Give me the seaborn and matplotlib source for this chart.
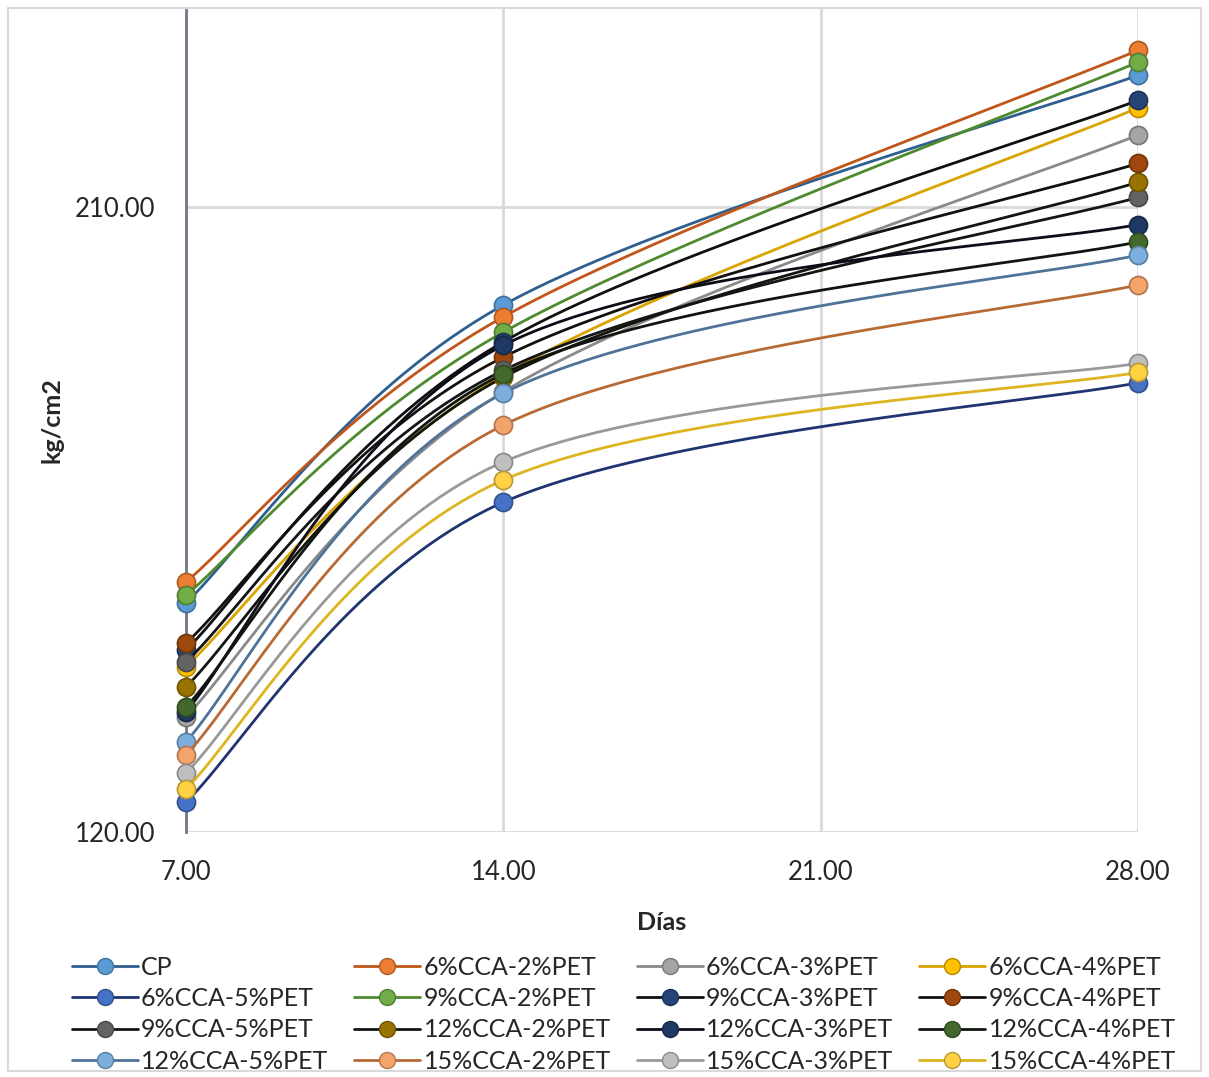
import numpy as np
import pandas as pd
import matplotlib
matplotlib.use("Agg")
import matplotlib.pyplot as plt
import seaborn as sns
from matplotlib.lines import Line2D
from matplotlib.patches import Rectangle
from matplotlib.colors import to_rgb

# ---- data: compressive strength (kg/cm2) by curing age (days) ----
dias = [7, 14, 28]

cp = [153.0, 195.9, 229.0]
cca6_pet2 = [156.0, 194.2, 232.6]
cca6_pet3 = [136.6, 183.4, 220.4]
cca6_pet4 = [143.8, 185.8, 224.3]
cca6_pet5 = [124.3, 167.5, 184.7]
cca9_pet2 = [154.1, 192.0, 230.9]
cca9_pet3 = [146.2, 190.6, 225.4]
cca9_pet4 = [147.2, 188.4, 216.3]
cca9_pet5 = [144.5, 186.5, 211.4]
cca12_pet2 = [140.9, 185.5, 213.6]
cca12_pet3 = [137.3, 190.1, 207.5]
cca12_pet4 = [138.0, 186.0, 205.0]
cca12_pet5 = [133.0, 183.2, 203.1]
cca15_pet2 = [131.1, 178.6, 198.8]
cca15_pet3 = [128.5, 173.3, 187.5]
cca15_pet4 = [126.2, 170.7, 186.2]

nombres = ["CP", "6%CCA-2%PET", "6%CCA-3%PET", "6%CCA-4%PET",
           "6%CCA-5%PET", "9%CCA-2%PET", "9%CCA-3%PET", "9%CCA-4%PET",
           "9%CCA-5%PET", "12%CCA-2%PET", "12%CCA-3%PET", "12%CCA-4%PET",
           "12%CCA-5%PET", "15%CCA-2%PET", "15%CCA-3%PET", "15%CCA-4%PET"]
valores = [cp, cca6_pet2, cca6_pet3, cca6_pet4, cca6_pet5, cca9_pet2,
           cca9_pet3, cca9_pet4, cca9_pet5, cca12_pet2, cca12_pet3,
           cca12_pet4, cca12_pet5, cca15_pet2, cca15_pet3, cca15_pet4]

# marker fill and connecting-line colours per series
color_marcador = ["#5B9BD5", "#ED7D31", "#A5A5A5", "#FFC000",
                  "#4472C4", "#70AD47", "#264478", "#9E480E",
                  "#636363", "#997300", "#1F3864", "#43682B",
                  "#7CAFDD", "#F4A36B", "#BFBFBF", "#FFD245"]
color_linea = ["#2F5F8F", "#C0561A", "#8A8A8A", "#D9A400",
               "#1F3470", "#4E8A2E", "#101010", "#151010",
               "#151515", "#151510", "#0D0D1A", "#101510",
               "#4F7398", "#B86A35", "#999999", "#DDB520"]


def suavizado(x, y, n=80):
    """Excel-style smoothed line: cubic Bezier segments, 1/6 tangents."""
    p = np.column_stack([x, y]).astype(float)
    ext = np.vstack([p[0], p, p[-1]])
    t = np.linspace(0, 1, n)[:, None]
    partes = []
    for i in range(len(p) - 1):
        a, p1, p2, b = ext[i], ext[i + 1], ext[i + 2], ext[i + 3]
        c1 = p1 + (p2 - a) / 6.0
        c2 = p2 - (b - p1) / 6.0
        seg = ((1 - t) ** 3) * p1 + 3 * ((1 - t) ** 2) * t * c1 \
            + 3 * (1 - t) * t ** 2 * c2 + t ** 3 * p2
        partes.append(seg if i == 0 else seg[1:])
    return np.vstack(partes)


def oscurecer(c, f=0.72):
    r, g, b = to_rgb(c)
    return (r * f, g * f, b * f)


sns.set_theme(style="white")
plt.rcParams["font.family"] = ["Lato", "DejaVu Sans"]

fig = plt.figure(figsize=(12.09, 10.77), dpi=100)
ax = fig.add_axes([0.1538, 0.2275, 0.9413 - 0.1538, 0.9926 - 0.2275])

for i, (nombre, vals) in enumerate(zip(nombres, valores)):
    curva = suavizado(dias, vals)
    df_c = pd.DataFrame({"dia": curva[:, 0], "kg": curva[:, 1]})
    sns.lineplot(data=df_c, x="dia", y="kg", sort=False, estimator=None,
                 color=color_linea[i], linewidth=2.0, ax=ax,
                 zorder=3 + 2 * i, clip_on=False)
    df_p = pd.DataFrame({"dia": dias, "kg": vals})
    sns.scatterplot(data=df_p, x="dia", y="kg", s=170, marker="o",
                    color=color_marcador[i],
                    edgecolor=oscurecer(color_marcador[i]), linewidth=1.2,
                    ax=ax, zorder=4 + 2 * i, clip_on=False)

ax.set_xlim(7, 28)
ax.set_ylim(120, 238.7)
ax.set_xticks([7, 14, 21, 28])
ax.set_xticklabels(["7.00", "14.00", "21.00", "28.00"])
ax.set_yticks([120, 210])
ax.set_yticklabels(["120.00", "210.00"])
ax.tick_params(axis="both", length=0, labelsize=18.5, colors="#262626")
ax.tick_params(axis="x", pad=20)
ax.tick_params(axis="y", pad=22)

ax.grid(True, color="#D9D9D9", linewidth=2.0)
ax.set_axisbelow(True)
for lado in ["top", "right", "bottom"]:
    ax.spines[lado].set_visible(False)
ax.spines["left"].set_color("#6E7A86")
ax.spines["left"].set_linewidth(2.0)
ax.spines["left"].set_zorder(2)

ax.set_xlabel("Días", fontsize=18, fontweight="bold", labelpad=19,
              color="#262626")
ax.set_ylabel("kg/cm2", fontsize=18, fontweight="bold", labelpad=8,
              color="#262626")

# legend: four entries per row, filled row by row
handles = [Line2D([], [], color=color_linea[i], linewidth=2.0, marker="o",
                  markersize=11.5, markerfacecolor=color_marcador[i],
                  markeredgecolor=oscurecer(color_marcador[i]),
                  markeredgewidth=1.0)
           for i in range(len(nombres))]
orden = [r * 4 + c for c in range(4) for r in range(4)]
fig.legend([handles[k] for k in orden], [nombres[k] for k in orden],
           loc="upper left", bbox_to_anchor=(0.049, 0.124), ncol=4,
           frameon=False, fontsize=18, handlelength=2.65,
           handletextpad=0.12, columnspacing=1.04, labelspacing=0.33,
           borderpad=0.0)

# light outer border of the chart area
fig.patches.append(Rectangle((0.007, 0.006), 0.986, 0.987,
                             transform=fig.transFigure, fill=False,
                             edgecolor="#D9D9D9", linewidth=1.5))

fig.savefig("out.png", dpi=100, facecolor="white")
